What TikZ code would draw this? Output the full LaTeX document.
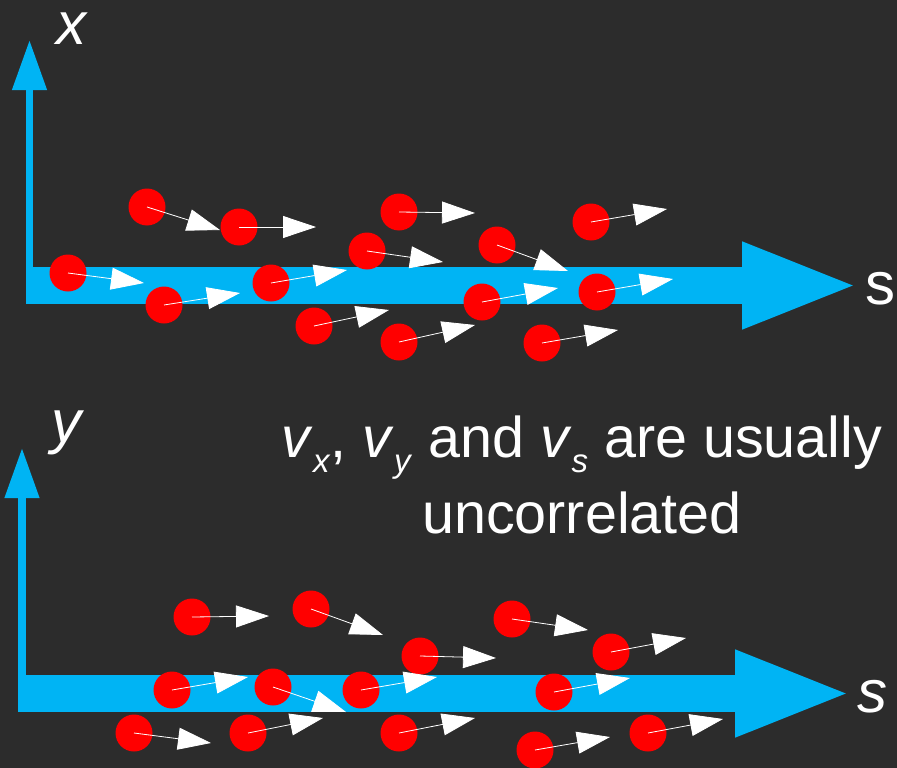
\documentclass[tikz,border=0pt]{standalone}
\usepackage{fontspec}
\setmainfont{Liberation Sans}
\usetikzlibrary{arrows.meta}

\definecolor{board}{HTML}{2C2C2C}
\definecolor{beamblue}{HTML}{00B4F4}
\newcommand{\vsub}[1]{\textit{v}\raisebox{-15pt}{\fontsize{33}{33}\selectfont\textit{#1}}}

\begin{document}
\begin{tikzpicture}[x=1pt,y=-1pt,
    dot/.style={circle,fill=red,draw=none,inner sep=0pt,minimum size=37pt},
    vel/.style={white,line width=0.8pt,-{Triangle[length=33pt,width=22pt]}},
    beam/.style={beamblue,line width=37pt,-{Triangle[length=118pt,width=78pt]}},
    axis/.style={beamblue,line width=7.5pt,-{Triangle[length=50pt,width=33pt]}},
    lbl/.style={white,anchor=base,inner sep=0pt,font=\fontsize{60}{60}\selectfont},
    caption/.style={white,anchor=base,inner sep=0pt,font=\fontsize{57.5}{57.5}\selectfont}]

    % Background
    \useasboundingbox (0,0) rectangle (897,768);
    \fill[board] (0,0) rectangle (897,768);

    % Axes, top panel (x-s)
    \coordinate (xo) at (29.5,304); \coordinate (xtip) at (29.5,40);
    \coordinate (so) at (26,285.5); \coordinate (stip) at (860,285.5);
    \draw[axis] (xo) -- (xtip);
    \draw[beam] (so) -- (stip);
    \node[lbl,font=\fontsize{60}{60}\selectfont\itshape] (xlab) at (71,45) {x};
    \node[lbl] (slab1) at (880,304) {s};

    % Axes, bottom panel (y-s)
    \coordinate (yo) at (22,712); \coordinate (ytip) at (22,448);
    \coordinate (so2) at (18,693.5); \coordinate (stip2) at (853,693.5);
    \draw[axis] (yo) -- (ytip);
    \draw[beam] (so2) -- (stip2);
    \node[lbl,font=\fontsize{60}{60}\selectfont\itshape] (ylab) at (66,442) {y};
    \node[lbl,font=\fontsize{60}{60}\selectfont\itshape] (slab2) at (872,712) {s};

    % Particles, top panel
    \foreach \px/\py/\tx/\ty [count=\i] in {147/207/220/230, 239/227/316/227,
        399/212/475/213, 367/251/443/262, 68/273/144/283, 164/305/240/293,
        271/283/347/270, 314/326/389/310, 399/342/475/325, 497/245/568/271,
        591/222/667/209, 482/302/558/288, 597/292/673/279, 542/343/618/330} {
      \node[dot] (p\i) at (\px,\py) {};
      \coordinate (pt\i) at (\tx,\ty);
      \draw[vel] (p\i.center) -- (pt\i);
    }

    % Particles, bottom panel
    \foreach \px/\py/\tx/\ty [count=\i] in {192/617/269/616, 311/609/383/635,
        420/656/496/658, 172/690/248/677, 273/687/346/712, 361/690/437/677,
        134/733/211/743, 248/733/323/718, 399/733/475/718, 512/619/588/630,
        611/652/686/638, 554/692/630/678, 535/750/610/737, 648/733/723/719} {
      \node[dot] (q\i) at (\px,\py) {};
      \coordinate (qt\i) at (\tx,\ty);
      \draw[vel] (q\i.center) -- (qt\i);
    }

    % Caption
    \node[caption] (txtA) at (582,457) {\vsub{x}, \vsub{y} and \vsub{s} are usually};
    \node[caption] (txtB) at (582,533) {uncorrelated};
  \end{tikzpicture}
\end{document}
